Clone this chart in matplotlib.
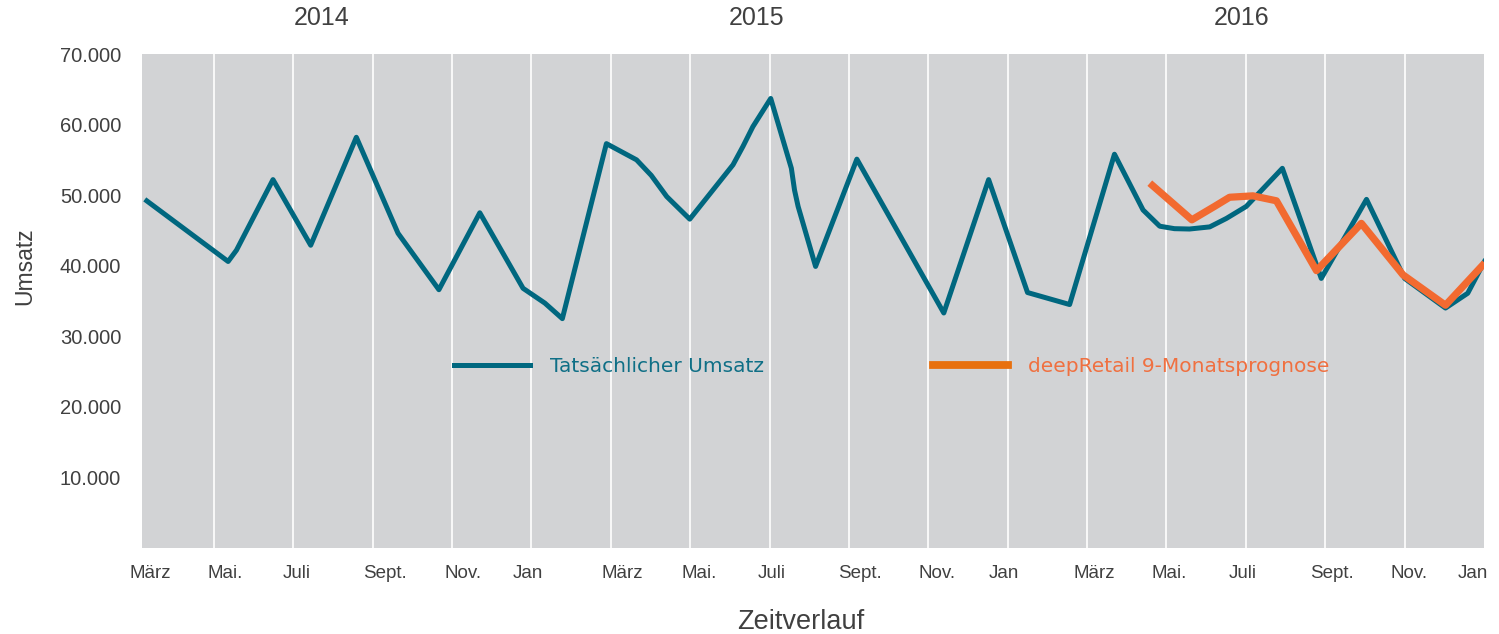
import matplotlib
matplotlib.use("Agg")
import matplotlib.pyplot as plt
from matplotlib.lines import Line2D

# ---- data (x in months since March 2014) ----
ist_monat = [0.26, 2.36, 2.57, 3.49, 4.44, 5.59, 6.64, 7.67, 8.70, 9.79, 10.34, 10.78,
             11.89, 12.65, 13.02, 13.41, 13.99, 15.08, 15.33, 15.58, 16.03, 16.55, 16.63,
             16.72, 17.16, 18.20, 20.39, 21.52, 22.50, 23.56, 24.69, 25.41, 25.83, 26.20,
             26.58, 27.09, 27.51, 28.01, 28.92, 29.90, 31.04, 32.00, 33.03, 33.59, 34.04]
ist_umsatz = [49400, 40600, 42200, 52200, 42900, 58200, 44600, 36600, 47500, 36800, 34700, 32500,
              57300, 55000, 52800, 49800, 46600, 54300, 56900, 59700, 63700, 53800, 50700,
              48400, 39900, 55100, 33300, 52200, 36200, 34500, 55800, 47900, 45600, 45250,
              45200, 45500, 46700, 48400, 53800, 38200, 49400, 38200, 34000, 36100, 40900]

prog_monat = [25.58, 26.64, 27.21, 27.59, 28.18, 28.77, 29.78, 30.91, 31.96, 33.03, 34.02]
prog_umsatz = [51700, 46500, 48400, 49700, 49900, 49200, 39300, 46000, 38700, 34400, 40400]

monat_labels = ["März", "Mai.", "Juli", "Sept.", "Nov.", "Jan",
                "März", "Mai.", "Juli", "Sept.", "Nov.", "Jan",
                "März", "Mai.", "Juli", "Sept.", "Nov.", "Jan"]
label_pos = [0.39, 2.28, 4.09, 6.31, 8.27, 9.91, 12.28, 14.24, 16.06, 18.27, 20.23, 21.90,
             24.19, 26.08, 27.92, 30.16, 32.12, 33.71]
grid_pos = list(range(2, 34, 2))
jahre = ["2014", "2015", "2016"]
jahr_pos = [4.72, 15.68, 27.9]
y_ticks = [10000, 20000, 30000, 40000, 50000, 60000, 70000]

TEAL = "#00677F"
ORANGE = "#F26A30"
GRAY_TXT = "#404040"

fig = plt.figure(figsize=(14.99, 6.34), dpi=100)
ax = fig.add_axes([142/1499, 1-548/634, (1484-142)/1499, (548-54)/634])
ax.set_facecolor("#D2D3D5")
for s in ax.spines.values():
    s.set_visible(False)

ax.set_xlim(0.19, 34.0)
ax.set_ylim(0, 70000)

ax.set_xticks(grid_pos, minor=True)
ax.grid(which="minor", axis="x", color="white", linewidth=1.2)
ax.set_xticks(label_pos)
ax.set_xticklabels(monat_labels, fontsize=13.5, color=GRAY_TXT, family="Liberation Sans")
ax.tick_params(axis="x", which="both", length=0, pad=12)

ax.set_yticks(y_ticks)
ax.set_yticklabels([f"{v:,}".replace(",", ".") for v in y_ticks], fontsize=14.5,
                   color=GRAY_TXT, family="Liberation Sans")
ax.tick_params(axis="y", length=0, pad=15)

ax.plot(ist_monat, ist_umsatz, color=TEAL, lw=3.6, solid_joinstyle="round",
        solid_capstyle="butt", zorder=3)
ax.plot(prog_monat, prog_umsatz, color=ORANGE, lw=5.2, solid_joinstyle="round",
        solid_capstyle="butt", zorder=4)

for j, p in zip(jahre, jahr_pos):
    ax.text(p, 1.073, j, transform=ax.get_xaxis_transform(), ha="center", va="center",
            fontsize=18, color=GRAY_TXT, family="Liberation Sans")

fig.text(25/1499, 1-266/634, "Umsatz", rotation=90, ha="center", va="center",
         fontsize=16.5, color=GRAY_TXT, family="Liberation Sans")
fig.text(801/1499, 1-622/634, "Zeitverlauf", ha="center", va="center",
         fontsize=19.5, color=GRAY_TXT, family="Liberation Sans")

handles = [Line2D([], [], color=TEAL, lw=3.6), Line2D([], [], color="#E8700E", lw=5.6)]
leg = ax.legend(handles, ["Tatsächlicher Umsatz", "deepRetail 9-Monatsprognose"],
                loc="center left", bbox_to_anchor=((454-142)/1342, (548-367)/494),
                ncol=2, frameon=False, borderaxespad=0, borderpad=0,
                handlelength=3.75, handletextpad=1.0, columnspacing=8.4,
                prop={"family": "DejaVu Sans", "size": 14.5})
for t, c in zip(leg.get_texts(), ["#0F6F86", "#F07040"]):
    t.set_color(c)

fig.savefig("out.png", dpi=100)
